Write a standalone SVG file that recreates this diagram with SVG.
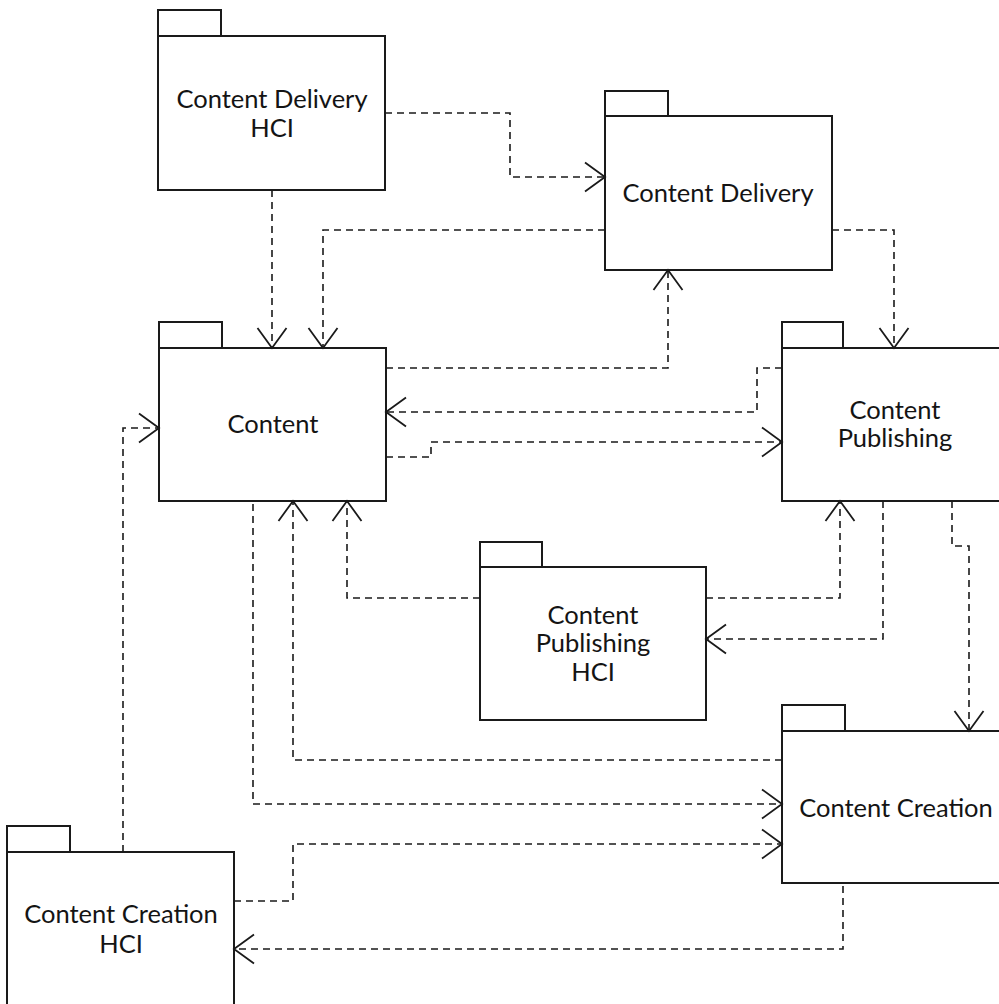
<svg xmlns="http://www.w3.org/2000/svg" width="999" height="1004" viewBox="0 0 999 1004">
  <style>
    .box { fill: #ffffff; stroke: #1a1a1a; stroke-width: 2; }
    .label { font-family: Lato, "Open Sans", "Liberation Sans", sans-serif; font-size: 25.5px; fill: #141414; text-anchor: middle; }
    .dep { fill: none; stroke: #1a1a1a; stroke-width: 1.6; stroke-dasharray: 7 5; marker-end: url(#open); }
  </style>
  <defs>
    <!-- open "V" arrowhead for dependency lines -->
    <marker id="open" viewBox="-22 -16 24 32" refX="0" refY="0" markerWidth="24" markerHeight="32" markerUnits="userSpaceOnUse" orient="auto">
      <path d="M-20,-14.5 L0,0 L-20,14.5" fill="none" stroke="#1a1a1a" stroke-width="1.8" stroke-dasharray="none"/>
    </marker>
  </defs>
  <rect width="999" height="1004" fill="#ffffff"/>

  <!-- packages -->
  <g id="content-delivery-hci">
    <rect class="box" x="158" y="10" width="63" height="26"/>
    <rect class="box" x="158" y="36" width="227" height="154"/>
    <text class="label" x="272" y="108">Content Delivery</text>
    <text class="label" x="272" y="137">HCI</text>
  </g>
  <g id="content-delivery">
    <rect class="box" x="605" y="91" width="63" height="25"/>
    <rect class="box" x="605" y="116" width="227" height="154"/>
    <text class="label" x="718" y="202">Content Delivery</text>
  </g>
  <g id="content">
    <rect class="box" x="159" y="322" width="63" height="26"/>
    <rect class="box" x="159" y="348" width="227" height="153"/>
    <text class="label" x="273" y="433">Content</text>
  </g>
  <g id="content-publishing">
    <rect class="box" x="782" y="322" width="61" height="26"/>
    <rect class="box" x="782" y="348" width="230" height="153"/>
    <text class="label" x="895" y="419">Content</text>
    <text class="label" x="895" y="447">Publishing</text>
  </g>
  <g id="content-publishing-hci">
    <rect class="box" x="480" y="542" width="62" height="25"/>
    <rect class="box" x="480" y="567" width="226" height="153"/>
    <text class="label" x="593" y="624">Content</text>
    <text class="label" x="593" y="652">Publishing</text>
    <text class="label" x="593" y="681">HCI</text>
  </g>
  <g id="content-creation">
    <rect class="box" x="782" y="705" width="63" height="26"/>
    <rect class="box" x="782" y="731" width="230" height="152"/>
    <text class="label" x="896" y="817">Content Creation</text>
  </g>
  <g id="content-creation-hci">
    <rect class="box" x="7" y="826" width="63" height="26"/>
    <rect class="box" x="7" y="852" width="227" height="165"/>
    <text class="label" x="121" y="923">Content Creation</text>
    <text class="label" x="121" y="953">HCI</text>
  </g>

  <!-- dependencies -->
  <g id="connectors">
    <path class="dep" d="M385,113 H510 V177 H605"/>
    <path class="dep" d="M272,190 V348"/>
    <path class="dep" d="M605,230 H323 V348"/>
    <path class="dep" d="M832,230 H894 V348"/>
    <path class="dep" d="M386,368 H668 V270"/>
    <path class="dep" d="M782,368 H757 V412 H386"/>
    <path class="dep" d="M386,457 H431 V442 H782"/>
    <path class="dep" d="M480,598 H347 V501"/>
    <path class="dep" d="M706,598 H840 V501"/>
    <path class="dep" d="M883,501 V639 H706"/>
    <path class="dep" d="M952,501 V546 H969 V731"/>
    <path class="dep" d="M782,760 H293 V501"/>
    <path class="dep" d="M253,504 V804 H782"/>
    <path class="dep" d="M234,901 H293 V844 H782"/>
    <path class="dep" d="M123,852 V428 H159"/>
    <path class="dep" d="M843,886 V949 H234"/>
  </g>
</svg>
